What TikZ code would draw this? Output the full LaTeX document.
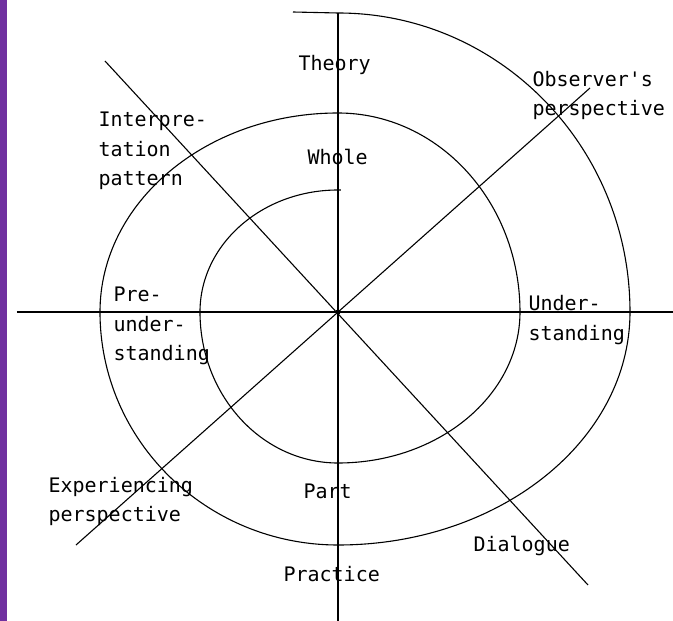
\documentclass[tikz,border=0pt]{standalone}
\usepackage{fontspec}
\newfontfamily\labelfont{DejaVu Sans Mono}
\definecolor{barpurple}{RGB}{112,48,160}

\begin{document}
\begin{tikzpicture}[x=1pt, y=1pt, line width=1.1pt,
    every node/.style={font=\labelfont\fontsize{20}{29.5}\selectfont, inner sep=0pt, anchor=base west, align=left}]
    \useasboundingbox (-338, -309) rectangle (335, 312);
    \fill[barpurple] (-338, -309) rectangle (-331, 312);
    \node (1) at (-40, 241) {Theory};
    \node (2) at (-31, 147) {Whole};
    \node (3) at (-240, 126) {Interpre-\\tation\\pattern};
    \node (4) at (194, 196) {Observer's\\perspective};
    \node (5) at (-225, -49) {Pre-\\under-\\standing};
    \node (6) at (190, -28.5) {Under-\\standing};
    \node (7) at (-290, -210) {Experiencing\\perspective};
    \node (8) at (-35, -187) {Part};
    \node (9) at (-55, -270) {Practice};
    \node (10) at (135, -240) {Dialogue};
    \coordinate (0) at (0, 0);
    \coordinate (11) at (0, 299);
    \coordinate (12) at (0, -309);
    \coordinate (13) at (-321, 0);
    \coordinate (14) at (335, 0);
    \coordinate (15) at (-233, 251);
    \coordinate (16) at (250, -273);
    \coordinate (17) at (-262, -233);
    \coordinate (18) at (252, 224);
    \draw (11) to (12);
    \draw (13) to (14);
    \draw (15) to (16);
    \draw (17) to (18);
    \draw (3, 122)--(0, 122)
      arc[start angle=90, end angle=180, x radius=138, y radius=122]
      arc[start angle=180, end angle=270, x radius=138, y radius=151]
      arc[start angle=270, end angle=360, x radius=182, y radius=151]
      arc[start angle=0, end angle=90, x radius=182, y radius=199]
      arc[start angle=90, end angle=180, x radius=238, y radius=199]
      arc[start angle=180, end angle=270, x radius=238, y radius=233]
      arc[start angle=270, end angle=360, x radius=292, y radius=233]
      arc[start angle=0, end angle=90, x radius=292, y radius=299]
      --(-45, 300);
    \fill (0) circle (2.5);
\end{tikzpicture}
\end{document}
